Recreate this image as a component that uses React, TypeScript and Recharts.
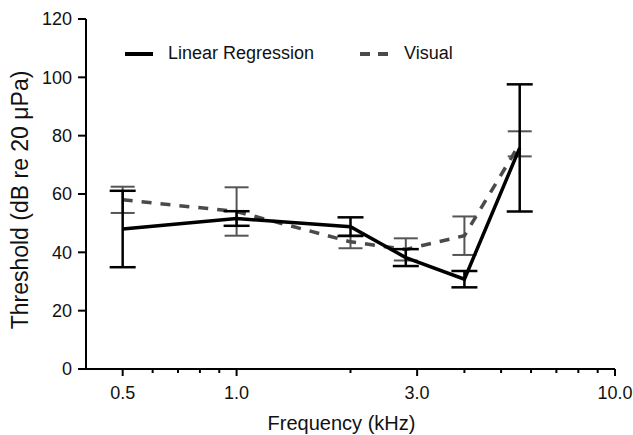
import { LineChart, Line, XAxis, YAxis, ErrorBar } from "recharts";

// Frequencies (kHz) and thresholds (dB re 20 µPa)
const freqs = [0.5, 1.0, 2.0, 2.8, 4.0, 5.6];
const linearMean = [48.0, 51.6, 48.8, 38.2, 30.8, 75.8];
const linearErr = [13.1, 2.5, 3.2, 2.9, 2.8, 21.8];
const visualMean = [58.0, 54.0, 43.6, 41.0, 45.7, 77.2];
const visualErr = [4.5, 8.3, 2.2, 3.8, 6.6, 4.3];

const majorTicks = [0.5, 1, 3, 10];
const majorTickLabels = ["0.5", "1.0", "3.0", "10.0"];
const minorTicks = [0.6, 0.7, 0.8, 0.9, 2, 4, 5, 6, 7, 8, 9];
const yTicks = [0, 20, 40, 60, 80, 100, 120];

const FONT = "'Liberation Sans', Arial, Helvetica, sans-serif";

const data = freqs.map((freq, i) => ({
	freq,
	linear: linearMean[i],
	linearErr: linearErr[i],
	visual: visualMean[i],
	visualErr: visualErr[i],
}));

const allTicks = [...majorTicks, ...minorTicks].sort((a, b) => a - b);

// Bottom axis tick: long tick + label for majors, short tick for minors
const FreqTick = (props: { x?: number; y?: number; payload?: { value: number } }) => {
	const x = Number(props.x ?? 0);
	const y = Number(props.y ?? 0);
	const value = props.payload?.value ?? 0;
	const idx = majorTicks.indexOf(value);
	const major = idx >= 0;
	return (
		<g>
			<line x1={x} x2={x} y1={y} y2={y + (major ? 7 : 4)} stroke="#000" strokeWidth={2} />
			{major && (
				<text x={x} y={y + 30} textAnchor="middle" fontSize={18} fontFamily={FONT} fill="#111">
					{majorTickLabels[idx]}
				</text>
			)}
		</g>
	);
};

const XTitle = (props: { viewBox?: { x: number; y: number; width: number; height: number } }) => {
	const vb = props.viewBox ?? { x: 0, y: 0, width: 0, height: 0 };
	return (
		<text x={vb.x + vb.width / 2 - 9} y={vb.y + 61} textAnchor="middle" fontSize={20} fontFamily={FONT} fill="#111">
			Frequency (kHz)
		</text>
	);
};

const YTitle = (props: { viewBox?: { x: number; y: number; width: number; height: number } }) => {
	const vb = props.viewBox ?? { x: 0, y: 0, width: 0, height: 0 };
	const cx = 28;
	const cy = vb.y + vb.height / 2 + 6;
	return (
		<text
			x={cx}
			y={cy}
			transform={`rotate(-90, ${cx}, ${cy})`}
			textAnchor="middle"
			fontSize={23}
			fontFamily={FONT}
			fill="#111"
		>
			Threshold (dB re 20 μPa)
		</text>
	);
};

export default function App() {
	return (
		<div style={{ position: "absolute", left: 0, top: 0, width: 633, height: 435, background: "#fff" }}>
			<LineChart
				width={633}
				height={435}
				data={data}
				margin={{ top: 19, right: 18, left: 0, bottom: 26 }}
			>
				<XAxis
					dataKey="freq"
					type="number"
					scale="log"
					domain={[0.4, 10]}
					allowDataOverflow
					ticks={allTicks}
					interval={0}
					tick={<FreqTick />}
					tickLine={false}
					tickSize={0}
					tickMargin={0}
					height={40}
					axisLine={{ stroke: "#000", strokeWidth: 2 }}
					label={<XTitle />}
				/>
				<YAxis
					type="number"
					domain={[0, 120]}
					ticks={yTicks}
					width={86}
					tickSize={8}
					tickMargin={6}
					tick={{ fontSize: 18, fill: "#111", fontFamily: FONT }}
					tickLine={{ stroke: "#000", strokeWidth: 2 }}
					axisLine={{ stroke: "#000", strokeWidth: 2 }}
					label={<YTitle />}
				/>
				<Line
					dataKey="visual"
					name="Visual"
					stroke="#4a4a4a"
					strokeWidth={3.5}
					strokeDasharray="10 9"
					dot={false}
					isAnimationActive={false}
				>
					<ErrorBar dataKey="visualErr" direction="y" width={12} strokeWidth={2} stroke="#555" />
				</Line>
				<Line
					dataKey="linear"
					name="Linear Regression"
					stroke="#000"
					strokeWidth={3.5}
					dot={false}
					isAnimationActive={false}
				>
					<ErrorBar dataKey="linearErr" direction="y" width={13} strokeWidth={2.5} stroke="#000" />
				</Line>
			</LineChart>
			<div
				style={{
					position: "absolute",
					left: 125,
					top: 43,
					display: "flex",
					alignItems: "center",
					fontFamily: FONT,
					fontSize: 18,
					color: "#111",
					whiteSpace: "nowrap",
				}}
			>
				<svg width={28} height={8}>
					<line x1={0} x2={28} y1={4} y2={4} stroke="#000" strokeWidth={4} />
				</svg>
				<span style={{ marginLeft: 15 }}>Linear Regression</span>
				<svg width={28} height={8} style={{ marginLeft: 46 }}>
					<line x1={0} x2={28} y1={4} y2={4} stroke="#4a4a4a" strokeWidth={4} strokeDasharray="10 8" />
				</svg>
				<span style={{ marginLeft: 16 }}>Visual</span>
			</div>
		</div>
	);
}
